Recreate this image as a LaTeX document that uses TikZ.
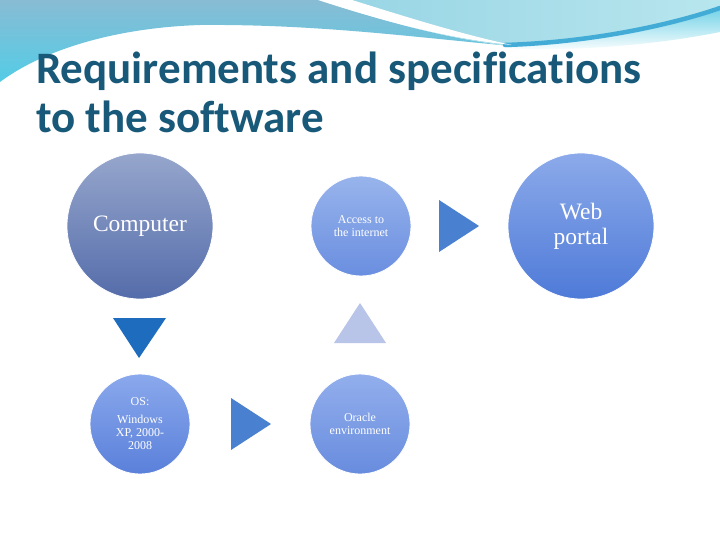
\documentclass[tikz,border=0pt]{standalone}
\usepackage{fontspec}
\setmainfont{Liberation Serif}
\newfontfamily\titlefont[Ligatures={NoCommon}]{Carlito}
\definecolor{titleblue}{RGB}{24,88,120}
\definecolor{bantop}{RGB}{136,188,212}
\definecolor{banbot}{RGB}{84,204,230}
\definecolor{banlight}{RGB}{150,212,228}
\definecolor{banlightR}{RGB}{184,230,238}
\definecolor{banstripe}{RGB}{66,172,214}
\definecolor{banfoot}{RGB}{120,212,232}
\definecolor{compTop}{RGB}{150,166,204}
\definecolor{compBot}{RGB}{84,108,170}
\definecolor{accTop}{RGB}{152,180,236}
\definecolor{accBot}{RGB}{106,142,224}
\definecolor{webTop}{RGB}{140,170,234}
\definecolor{webBot}{RGB}{78,122,216}
\definecolor{osTop}{RGB}{138,168,236}
\definecolor{osBot}{RGB}{90,128,218}
\definecolor{orTop}{RGB}{146,174,236}
\definecolor{orBot}{RGB}{104,140,222}
\definecolor{triDark}{RGB}{30,108,190}
\definecolor{triMid}{RGB}{74,128,208}
\definecolor{triLight}{RGB}{184,196,232}
\begin{document}
\begin{tikzpicture}[x=1pt,y=-1pt,
  bubble/.style={circle, draw=white, line width=0.8pt, text=white, align=center, inner sep=0pt},
  bigbubble/.style={bubble, minimum size=146pt, font=\fontsize{23.5}{25}\selectfont},
  smallbubble/.style={bubble, minimum size=100pt, font=\fontsize{12}{13}\selectfont},
  ttl/.style={anchor=base west, inner sep=0pt, text=titleblue, font=\titlefont\bfseries\fontsize{45}{50}\selectfont}
]
\useasboundingbox (0,0) rectangle (720,540);
\fill[white] (0,0) rectangle (720,540);
% banner
\shade[top color=bantop, bottom color=banbot]
  (0,0) -- (320,0) .. controls (395,25) and (455,40) .. (512,46)
  .. controls (420,38) and (320,24) .. (200,25)
  .. controls (110,28) and (40,52) .. (0,82) -- cycle;
\shade[left color=banlight, right color=banlightR]
  (320,0) .. controls (395,25) and (455,40) .. (512,46)
  .. controls (600,42) and (680,22) .. (720,8) -- (720,0) -- cycle;
\shade[top color=banfoot, bottom color=white]
  (505,46) .. controls (600,44) and (680,24) .. (720,10) -- (720,32)
  .. controls (660,44) and (580,52) .. (505,48) -- cycle;
\draw[banstripe, line width=4.5pt, line cap=round]
  (505,45) .. controls (600,42) and (680,22) .. (720,8);
\fill[white] (318,0) .. controls (392,24) and (452,39) .. (512,45)
  .. controls (460,34) and (400,15) .. (352,0) -- cycle;
% title
\node[ttl] (t1) at (36,84) {Requirements and specifications};
\node[ttl] (t2) at (36,133) {to the software};
% circles
\node[bigbubble, top color=compTop, bottom color=compBot] (comp) at (140,226) {Computer};
\node[smallbubble, top color=accTop, bottom color=accBot] (acc) at (361,226) {Access to\\the internet};
\node[bigbubble, top color=webTop, bottom color=webBot] (web) at (581,226) {Web\\portal};
\node[smallbubble, top color=osTop, bottom color=osBot] (os) at (140,424) {OS:\\[5pt]Windows\\XP, 2000-\\2008};
\node[smallbubble, top color=orTop, bottom color=orBot] (ora) at (360,424) {Oracle\\environment};
% triangles
\fill[triDark] (113,318) -- (166,318) -- (139,358) -- cycle;
\fill[triLight] (334,343) -- (386,343) -- (360,303) -- cycle;
\fill[triMid] (231,398) -- (231,450) -- (271,424) -- cycle;
\fill[triMid] (439,200) -- (439,252) -- (479,226) -- cycle;
\end{tikzpicture}
\end{document}
